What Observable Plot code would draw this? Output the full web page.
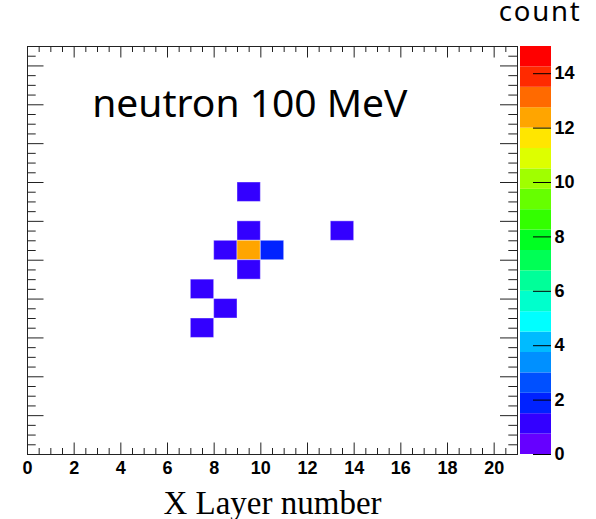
<!DOCTYPE html>
<html>
<head>
<meta charset="utf-8">
<script src="https://cdn.jsdelivr.net/npm/d3@7"></script>
<script src="https://cdn.jsdelivr.net/npm/@observablehq/plot@0.6"></script>
<style>
  html, body { margin: 0; padding: 0; background: white; }
  #wrap { position: relative; width: 596px; height: 519px; }
  #wrap svg { position: absolute; left: 0; top: 0; }
</style>
</head>
<body>
<div id="wrap"></div>
<script>
// Histogram cells (lower-left bin edges) and counts
const cellX = [9, 9, 8, 9, 10, 9, 13, 7, 8, 7];
const cellY = [13, 11, 10, 10, 10, 9, 11, 8, 7, 6];
const cellCount = [1, 1, 1, 12, 2, 1, 1, 1, 1, 1];

// Axis tick values
const xMajor = [0, 2, 4, 6, 8, 10, 12, 14, 16, 18, 20];
const xMinor = [0.5, 1, 1.5, 2.5, 3, 3.5, 4.5, 5, 5.5, 6.5, 7, 7.5, 8.5, 9, 9.5, 10.5, 11, 11.5, 12.5, 13, 13.5, 14.5, 15, 15.5, 16.5, 17, 17.5, 18.5, 19, 19.5, 20.5];
const yMajor = [0, 2, 4, 6, 8, 10, 12, 14, 16, 18, 20];
const yMinor = xMinor;
const zTicks = [0, 2, 4, 6, 8, 10, 12, 14];

// Colour contour levels (20 contours 0..15) and palette
const levels = [0, 0.75, 1.5, 2.25, 3, 3.75, 4.5, 5.25, 6, 6.75, 7.5, 8.25, 9, 9.75, 10.5, 11.25, 12, 12.75, 13.5, 14.25, 15];
const palette = ["#6600ff", "#3300ff", "#0022ff", "#0050ff", "#0090ff", "#00bbff", "#00ffff", "#00ffcc", "#00ff99", "#00ff55",
                 "#00ff22", "#33ff00", "#66ff00", "#a0ff00", "#ddff00", "#ffe600", "#ffa500", "#ff6a00", "#ff2a00", "#ff0000"];

const cells = cellX.map((x, i) => ({x, y: cellY[i], count: cellCount[i]}));
const bands = levels.slice(0, -1).map((lo, i) => ({lo, hi: levels[i + 1], mid: (lo + levels[i + 1]) / 2}));

const W = 596, H = 519;
const color = {type: "threshold", domain: levels.slice(1, -1), range: palette};
const tickStroke = "#222";
const lblFont = "Liberation Sans, Arial, sans-serif";

const main = Plot.plot({
  width: W, height: H,
  marginLeft: 27, marginRight: 79, marginTop: 46, marginBottom: 65,
  style: {background: "transparent", overflow: "visible"},
  x: {domain: [0, 21], axis: null},
  y: {domain: [0, 21], axis: null},
  color,
  marks: [
    Plot.rect(cells, {x1: "x", x2: d => d.x + 1, y1: "y", y2: d => d.y + 1, fill: "count",
                      stroke: "white", strokeOpacity: 0.4, strokeWidth: 1}),
    Plot.frame({stroke: "#222", strokeWidth: 1}),
    // bottom ticks
    Plot.tickX(xMajor, {x: d => d, insetTop: 408 - 11.5, stroke: tickStroke}),
    Plot.tickX(xMinor, {x: d => d, insetTop: 408 - 6, stroke: tickStroke}),
    // top ticks
    Plot.tickX(xMajor, {x: d => d, insetBottom: 408 - 11.5, stroke: tickStroke}),
    Plot.tickX(xMinor, {x: d => d, insetBottom: 408 - 6, stroke: tickStroke}),
    // left ticks
    Plot.tickY(yMajor, {y: d => d, insetRight: 490 - 16.5, stroke: tickStroke}),
    Plot.tickY(yMinor, {y: d => d, insetRight: 490 - 8.7, stroke: tickStroke}),
    // right ticks
    Plot.tickY(yMajor, {y: d => d, insetLeft: 490 - 17, stroke: tickStroke}),
    Plot.tickY(yMinor, {y: d => d, insetLeft: 490 - 8.7, stroke: tickStroke}),
    // x tick labels
    Plot.text(xMajor, {x: d => d, text: d => String(d), frameAnchor: "bottom", lineAnchor: "top", dy: 6.5,
                       fontSize: 18, fontWeight: "bold", fontFamily: lblFont, fill: "black"}),
    // titles
    Plot.text(["neutron 100 MeV"], {frameAnchor: "top-left", textAnchor: "start", lineAnchor: "bottom",
                       dx: 64.7, dy: 70.7, fontSize: 39, fontFamily: "Noto Sans, sans-serif", fill: "black"}),
    Plot.text(["count"], {frameAnchor: "top-right", textAnchor: "end", lineAnchor: "bottom",
                       dx: 64, dy: -25.3, fontSize: 27.5, fontFamily: "Noto Sans, sans-serif", fill: "black",
                       style: "letter-spacing:1.8px"}),
    Plot.text(["X Layer number"], {frameAnchor: "bottom", textAnchor: "middle", lineAnchor: "bottom",
                       dy: 59, fontSize: 33, fontFamily: "Liberation Serif, Times New Roman, serif", fill: "black"})
  ]
});

const bar = Plot.plot({
  width: W, height: H,
  marginLeft: 520, marginRight: 45, marginTop: 46, marginBottom: 65,
  style: {background: "transparent", overflow: "visible"},
  y: {domain: [0, 15], axis: null},
  color,
  marks: [
    Plot.rect(bands, {y1: "lo", y2: "hi", fill: "mid"}),
    Plot.tickY(zTicks, {y: d => d, insetLeft: 13, stroke: "black"}),
    Plot.text(zTicks, {y: d => d, text: d => String(d), frameAnchor: "right", textAnchor: "start", dx: 3,
                       lineAnchor: "middle", fontSize: 18, fontWeight: "bold", fontFamily: lblFont, fill: "black"})
  ]
});

// letter spacing for the "count" label (reference font is wider)
main.querySelectorAll("text").forEach(t => { if (t.textContent === "count") t.style.letterSpacing = "1.8px"; });

const wrap = document.getElementById("wrap");
wrap.appendChild(main);
wrap.appendChild(bar);
</script>
</body>
</html>
